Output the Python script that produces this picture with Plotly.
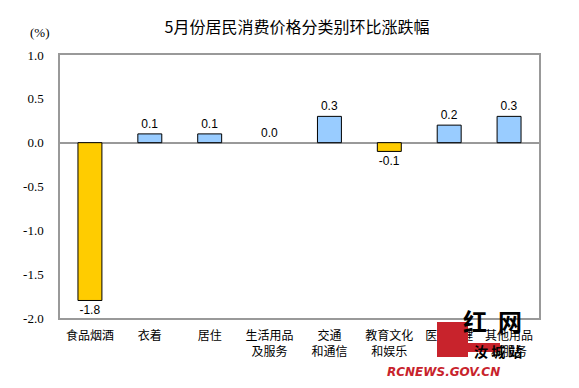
import plotly.graph_objects as go

categories = ["食品烟酒", "衣着", "居住", "生活用品<br>及服务", "交通<br>和通信", "教育文化<br>和娱乐", "医疗保健", "其他用品<br>和服务"]
values = [-1.8, 0.1, 0.1, 0.0, 0.3, -0.1, 0.2, 0.3]
labels = ["-1.8", "0.1", "0.1", "0.0", "0.3", "-0.1", "0.2", "0.3"]
yticks = [1.0, 0.5, 0.0, -0.5, -1.0, -1.5, -2.0]
ytick_text = ["1.0", "0.5", "0.0", "-0.5", "-1.0", "-1.5", "-2.0"]

colors = ["#FFCC00" if v < 0 else "#99CCFF" for v in values]
outline = [0 if v == 0 else 1 for v in values]

# page offset of 8px (body margin) compensated in size/margins
L, T = 52, 47
PX0, PX1, PY0, PY1 = 60, 539, 55, 318


def px(x):
    return (x - PX0) / (PX1 - PX0)


def py(y):
    return (PY1 - y) / (PY1 - PY0)


fig = go.Figure()
fig.add_trace(go.Bar(
    x=categories, y=values,
    marker=dict(color=colors, line=dict(color="#000000", width=outline)),
    width=0.4,
    text=labels, textposition="outside",
    textfont=dict(family="Arial, Liberation Sans", size=12, color="#000000"),
    cliponaxis=False,
))

fig.update_layout(
    width=571, height=380,
    margin=dict(l=L, r=40, t=T, b=70),
    paper_bgcolor="white", plot_bgcolor="white",
    showlegend=False,
    title=dict(text="5月份居民消费价格分类别环比涨跌幅", xref="paper", x=px(297), xanchor="center",
               y=0.948, yanchor="middle",
               font=dict(family="Noto Sans CJK SC", size=16, color="#000000")),
    xaxis=dict(showline=True, linecolor="#999999", linewidth=1.5, mirror=True, ticks="",
               ticklabelstandoff=6,
               tickfont=dict(family="Noto Sans CJK SC", size=12, color="#000000")),
    yaxis=dict(range=[-2.0, 1.0], tickvals=yticks, ticktext=ytick_text, showgrid=False,
               zeroline=True, zerolinecolor="#999999", zerolinewidth=1.5,
               showline=True, linecolor="#999999", linewidth=1.5, mirror=True, ticks="",
               ticklabelstandoff=12,
               tickfont=dict(family="Liberation Serif", size=13, color="#000000")),
)

fig.add_annotation(text="(%)", xref="paper", yref="paper", x=px(52), y=py(32), xanchor="right", yanchor="middle",
                   showarrow=False, font=dict(family="Liberation Serif", size=13, color="#000000"))

# watermark approximation
fig.add_shape(type="rect", xref="paper", yref="paper", x0=px(437), x1=px(468),
              y0=py(357), y1=py(322), fillcolor="#C8232C", line=dict(width=0), layer="above")
fig.add_shape(type="rect", xref="paper", yref="paper", x0=px(460), x1=px(500),
              y0=py(352), y1=py(343), fillcolor="#C8232C", line=dict(width=0), layer="above")
fig.add_annotation(text="<b>红  网</b>", xref="paper", yref="paper", x=px(524), y=py(340), showarrow=False,
                   font=dict(family="Noto Sans CJK SC", size=24, color="#000000"))
fig.add_annotation(text="<b>汝 城 站</b>", xref="paper", yref="paper", x=px(524), y=py(363), showarrow=False,
                   font=dict(family="Noto Sans CJK SC", size=14, color="#000000"))
fig.add_annotation(text="<b><i>RCNEWS.GOV.CN</i></b>", xref="paper", yref="paper", x=px(502), y=py(381), showarrow=False,
                   font=dict(family="DejaVu Sans", size=12, color="#C8232C"))

fig.write_html("out.html")
